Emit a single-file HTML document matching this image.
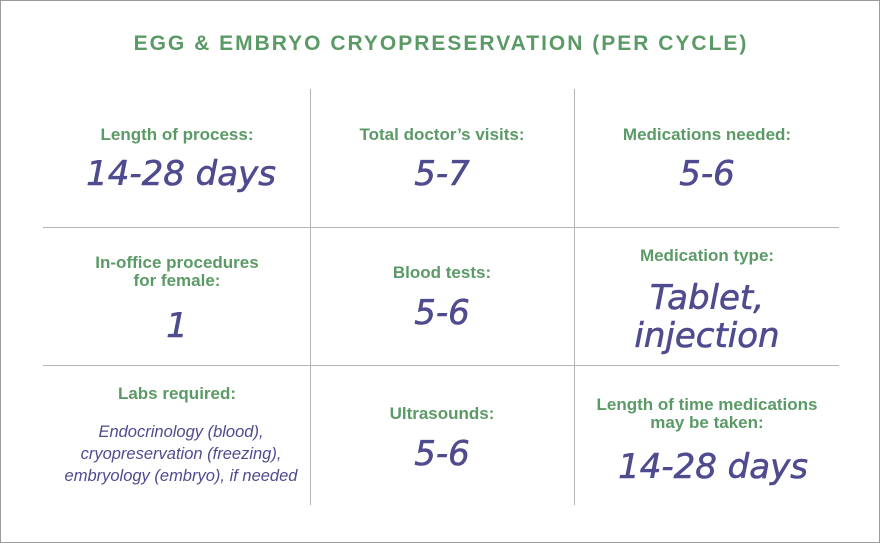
<!DOCTYPE html>
<html><head><meta charset="utf-8"><style>
body{margin:0;width:880px;height:543px;background:#fff;overflow:hidden}
#wrap{position:relative;width:878px;height:541px;border:1px solid #9a9a9a;font-family:"Liberation Sans",sans-serif}
.t{position:absolute;text-align:center;white-space:nowrap;transform:translateX(-50%)}
.lab{color:#5b9a66;font-weight:bold;font-size:17px;line-height:18px}
.val{color:#4f4b8f;font-style:italic;font-family:"DejaVu Sans","Liberation Sans",sans-serif;font-size:34px;line-height:36px;-webkit-text-stroke:0.6px #4f4b8f}
.sm{color:#4f4b8f;font-style:italic;font-size:16.5px;line-height:22px}
.vl{position:absolute;width:1px;background:#b5b5b5;top:88px;height:416px}
.hl{position:absolute;height:1px;background:#b5b5b5;left:42px;width:796px}
</style></head><body>
<div id="wrap">
<div class="t" style="left:440px;top:31px;color:#5b9a66;font-weight:bold;font-size:21px;letter-spacing:2px">EGG &amp; EMBRYO CRYOPRESERVATION (PER CYCLE)</div>
<div class="vl" style="left:309px"></div>
<div class="vl" style="left:573px"></div>
<div class="hl" style="top:226px"></div>
<div class="hl" style="top:364px"></div>

<div class="t lab" style="left:176px;top:125px">Length of process:</div>
<div class="t val" style="left:180px;top:155px">14-28 days</div>
<div class="t lab" style="left:441px;top:125px">Total doctor’s visits:</div>
<div class="t val" style="left:441px;top:155px">5-7</div>
<div class="t lab" style="left:706px;top:125px">Medications needed:</div>
<div class="t val" style="left:706px;top:155px">5-6</div>

<div class="t lab" style="left:176px;top:253px">In-office procedures<br>for female:</div>
<div class="t val" style="left:176px;top:307px">1</div>
<div class="t lab" style="left:441px;top:263px">Blood tests:</div>
<div class="t val" style="left:441px;top:294px">5-6</div>
<div class="t lab" style="left:706px;top:246px">Medication type:</div>
<div class="t val" style="left:706px;top:278px;line-height:38px">Tablet,<br>injection</div>

<div class="t lab" style="left:176px;top:384px">Labs required:</div>
<div class="t sm" style="left:180px;top:420px">Endocrinology (blood),<br>cryopreservation (freezing),<br>embryology (embryo), if needed</div>
<div class="t lab" style="left:441px;top:404px">Ultrasounds:</div>
<div class="t val" style="left:441px;top:435px">5-6</div>
<div class="t lab" style="left:706px;top:395px">Length of time medications<br>may be taken:</div>
<div class="t val" style="left:712px;top:448px">14-28 days</div>
</div>
</body></html>
